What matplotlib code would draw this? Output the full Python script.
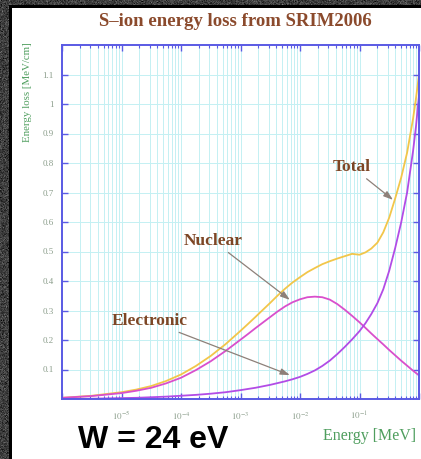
import numpy as np
import matplotlib
matplotlib.use("Agg")
import matplotlib.pyplot as plt
from matplotlib.patches import Rectangle
from matplotlib.ticker import FixedLocator, FixedFormatter, LogLocator, NullFormatter

# Stopping power of S ions (SRIM2006), energy in MeV, loss in MeV/cm
energy_mev = [1.0e-6, 3.16e-6, 1.0e-5, 1.78e-5, 3.16e-5, 5.62e-5,
              1.0e-4, 1.78e-4, 3.16e-4, 5.62e-4,
              1.0e-3, 1.33e-3, 1.78e-3, 2.37e-3, 3.16e-3, 4.22e-3, 5.62e-3, 7.50e-3,
              1.0e-2, 1.33e-2, 1.78e-2, 2.37e-2, 3.16e-2, 4.22e-2, 5.62e-2, 7.50e-2,
              0.100, 0.126, 0.158, 0.200, 0.251, 0.316, 0.398, 0.501, 0.631,
              0.794, 0.891, 1.000]
nuclear = [0.004, 0.010, 0.020, 0.028, 0.038, 0.053,
           0.072, 0.098, 0.128, 0.163,
           0.201, 0.220, 0.240, 0.259, 0.278, 0.297, 0.314, 0.328,
           0.338, 0.345, 0.347, 0.345, 0.337, 0.322, 0.303, 0.282,
           0.260, 0.241, 0.222, 0.203, 0.185, 0.166, 0.148, 0.130, 0.113,
           0.096, 0.088, 0.080]
electronic = [0.000, 0.001, 0.003, 0.004, 0.006, 0.008,
              0.011, 0.014, 0.018, 0.023,
              0.030, 0.034, 0.038, 0.043, 0.048, 0.054, 0.060, 0.067,
              0.075, 0.085, 0.097, 0.112, 0.130, 0.152, 0.176, 0.202,
              0.230, 0.257, 0.288, 0.325, 0.372, 0.435, 0.512, 0.598, 0.700,
              0.840, 0.925, 1.030]
total = [0.004, 0.011, 0.023, 0.032, 0.044, 0.061,
         0.083, 0.112, 0.146, 0.186,
         0.231, 0.254, 0.278, 0.302, 0.326, 0.351, 0.374, 0.395,
         0.413, 0.430, 0.444, 0.457, 0.467, 0.476, 0.484, 0.492,
         0.489, 0.497, 0.510, 0.530, 0.565, 0.615, 0.680, 0.750, 0.835,
         0.950, 1.020, 1.100]

x_tick_values = [1e-6, 1e-5, 1e-4, 1e-3, 1e-2, 1e-1, 1e0]
x_tick_labels = ["", r"$10^{-5}$", r"$10^{-4}$", r"$10^{-3}$", r"$10^{-2}$",
                 r"$10^{-1}$", ""]
y_tick_values = [0.1, 0.2, 0.3, 0.4, 0.5, 0.6, 0.7, 0.8, 0.9, 1.0, 1.1]
y_tick_labels = ["0.1", "0.2", "0.3", "0.4", "0.5", "0.6", "0.7", "0.8",
                 "0.9", "1", "1.1"]

plt.rcParams["mathtext.fontset"] = "stix"
SERIF = "Liberation Serif"

W, H = 421, 459
fig = plt.figure(figsize=(W / 100, H / 100), dpi=100)

# dark textured surround
rng = np.random.default_rng(3)
grain = np.clip(rng.normal(0.24, 0.07, (H, W)), 0, 1)
fig.figimage(grain, cmap="gray", vmin=0, vmax=1, zorder=-3)


def px_rect(x0, y0, x1, y1, color, z):
    fig.add_artist(Rectangle((x0 / W, 1 - y1 / H), (x1 - x0) / W, (y1 - y0) / H,
                             transform=fig.transFigure, facecolor=color,
                             edgecolor="none", zorder=z))


px_rect(9, 5, W, H, "black", -2)
px_rect(12, 8, W, H, "white", -1)

ax = fig.add_axes([62 / W, 1 - 399 / H, (419 - 62) / W, (399 - 45) / H])
ax.set_xscale("log")
ax.set_xlim(1e-6, 1)
ax.set_ylim(0, 1.2)

ax.xaxis.set_major_locator(FixedLocator(x_tick_values))
ax.xaxis.set_major_formatter(FixedFormatter(x_tick_labels))
ax.xaxis.set_minor_locator(LogLocator(base=10, subs=np.arange(2, 10)))
ax.xaxis.set_minor_formatter(NullFormatter())
ax.yaxis.set_major_locator(FixedLocator(y_tick_values))
ax.yaxis.set_major_formatter(FixedFormatter(y_tick_labels))

grid_c = "#c4f0f3"
ax.grid(which="both", axis="x", color=grid_c, lw=0.7)
ax.grid(which="major", axis="y", color=grid_c, lw=0.7)
ax.set_axisbelow(True)

axis_c = "#5a5ae4"
for s in ax.spines.values():
    s.set_color(axis_c)
    s.set_linewidth(1.4)

ax.tick_params(which="both", direction="in", top=True, right=True,
               color=axis_c, labelcolor="#8c9e8c", labelsize=6.5)
ax.tick_params(which="major", length=4, width=1.0)
ax.tick_params(which="minor", length=2.5, width=0.8)
ax.tick_params(axis="x", pad=8)
ax.tick_params(axis="y", pad=6)
for lab in ax.get_xticklabels() + ax.get_yticklabels():
    lab.set_fontfamily(SERIF)

ax.plot(energy_mev, total, color="#f2c64a", lw=1.3)
ax.plot(energy_mev, nuclear, color="#d94fcc", lw=1.3)
ax.plot(energy_mev, electronic, color="#b24ce6", lw=1.3)

arrow = dict(arrowstyle="-|>,head_length=0.45,head_width=0.15",
             color="#8d8079", lw=0.9, shrinkA=1, shrinkB=0)
label_kw = dict(ha="center", va="center", fontfamily=SERIF, weight="bold",
                size=12.5, color="#7d4625")
ax.annotate("Total", xy=(0.366, 0.675), xytext=(0.0748, 0.786),
            arrowprops=arrow, **label_kw)
ax.annotate("Nuclear", xy=(6.76e-3, 0.336), xytext=(3.47e-4, 0.536),
            arrowprops=arrow, **label_kw)
ax.annotate("Electronic", xy=(6.76e-3, 0.081), xytext=(3.0e-5, 0.264),
            arrowprops=arrow, **label_kw)

fig.text(235 / W, 1 - 22 / H, "S\u2013ion energy loss from SRIM2006",
         ha="center", va="center", fontfamily=SERIF, weight="bold",
         size=13.5, color="#8b4a2c")
fig.text(27 / W, 1 - 92 / H, "Energy loss [MeV/cm]", rotation=90,
         ha="center", va="center", fontfamily=SERIF, size=7.8,
         color="#4f9e5e")
fig.text(370 / W, 1 - 436 / H, "Energy [MeV]", ha="center", va="center",
         fontfamily=SERIF, size=11.5, color="#4f9e5e")
fig.text(153 / W, 1 - 440 / H, "W = 24 eV", ha="center", va="center",
         fontfamily="Liberation Sans", weight="bold", size=23, color="black")

fig.savefig("out.png", dpi=100)
